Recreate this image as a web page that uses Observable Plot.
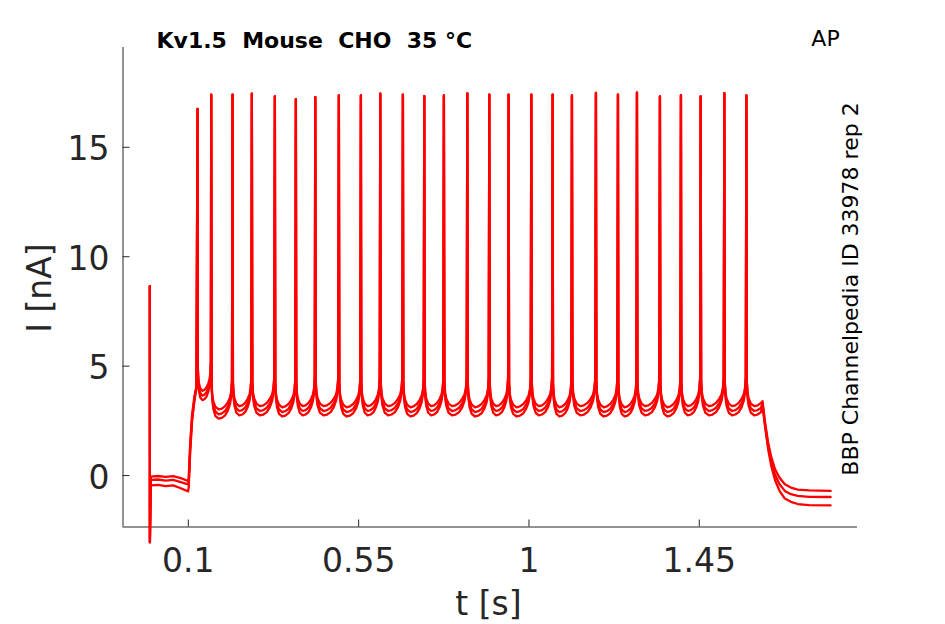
<!DOCTYPE html>
<html><head><meta charset="utf-8">
<script src="https://cdn.jsdelivr.net/npm/d3@7"></script>
<script src="https://cdn.jsdelivr.net/npm/@observablehq/plot@0.6"></script>
<style>
html,body{margin:0;padding:0;background:#fff;}
svg text{white-space:pre;}
</style></head><body><div id="chart"></div>
<script>
// ---- data ----
const xTicks = [0.1, 0.55, 1, 1.45];
const yTicks = [0, 5, 10, 15];
const xDomain = [-0.0726, 1.868];
const yDomain = [-2.35, 19.56];
const reps = ["rep a", "rep b", "rep c"];
const repOffset = [0.22, 0, -0.2];

// capacitive transient at stimulus onset
const transientT = [-0.0018, -0.0016];
const transientI = [8.65, -3.05];

// holding baseline before the AP train
const baseT = [0.001, 0.02, 0.04, 0.06, 0.08, 0.0995];
const baseI = [
  [-0.05, -0.02, -0.06, -0.03, -0.12, -0.25],
  [-0.20, -0.18, -0.23, -0.20, -0.30, -0.40],
  [-0.45, -0.43, -0.48, -0.45, -0.58, -0.72]
];

// rise into the train
const rampT = [0.101, 0.105, 0.11, 0.116, 0.1215];
const rampI = [
  [-0.10, 1.50, 2.80, 3.60, 4.10],
  [-0.30, 1.30, 2.65, 3.50, 4.05],
  [-0.55, 1.10, 2.50, 3.40, 4.00]
];

// spikes
const spikeTimes = [0.1243, 0.1605, 0.2168, 0.2678, 0.3286, 0.3841, 0.4354, 0.4977, 0.5559, 0.6071,
  0.6669, 0.7234, 0.7752, 0.8371, 0.8952, 0.9462, 1.0062, 1.0625, 1.1135, 1.1769,
  1.2351, 1.2853, 1.3460, 1.4015, 1.4536, 1.5162, 1.5744];
const spikePeaks = [16.76, 17.40, 17.41, 17.45, 17.32, 17.20, 17.29, 17.37, 17.37, 17.45,
  17.41, 17.34, 17.37, 17.46, 17.41, 17.41, 17.41, 17.41, 17.37, 17.49,
  17.41, 17.50, 17.32, 17.38, 17.32, 17.47, 17.37];
// trough level after each spike (middle trace)
const troughLevels = [3.65, 2.80, 2.95, 2.95, 2.90, 2.95, 2.95, 2.90, 2.95, 2.95,
  2.90, 2.95, 2.95, 2.90, 2.95, 2.90, 2.95, 2.90, 2.95, 2.90,
  2.90, 2.95, 2.90, 2.95, 2.95, 2.95, 2.95];
const lastVirtualSpike = 1.634;
const lastFracLimit = 0.65;

// inter-spike waveform (fraction of interval, height above trough, spread weight)
const shapeFrac   = [0.02, 0.05, 0.10, 0.20, 0.35, 0.50, 0.65, 0.78, 0.88, 0.94, 0.975];
const shapeRise   = [1.30, 0.75, 0.40, 0.12, 0.00, 0.04, 0.15, 0.35, 0.60, 0.95, 1.50];
const shapeSpread = [0.30, 0.50, 0.80, 1.00, 1.00, 1.00, 1.00, 0.90, 0.70, 0.50, 0.30];

// decay after the train
const tailT = [1.617, 1.624, 1.632, 1.64, 1.65, 1.662, 1.676, 1.692, 1.71, 1.74, 1.797];
const tailI = [
  [3.40, 2.40, 1.50, 0.85, 0.30, -0.10, -0.40, -0.55, -0.64, -0.68, -0.70],
  [3.30, 2.30, 1.35, 0.65, 0.05, -0.40, -0.70, -0.85, -0.93, -0.97, -0.98],
  [3.20, 2.20, 1.20, 0.45, -0.20, -0.70, -1.05, -1.20, -1.30, -1.35, -1.36]
];

// ---- assemble trace table ----
const rows = [];
reps.forEach((rep, r) => {
  transientT.forEach((t, k) => rows.push({rep, t, I: transientI[k]}));
  baseT.forEach((t, k) => rows.push({rep, t, I: baseI[r][k]}));
  rampT.forEach((t, k) => rows.push({rep, t, I: rampI[r][k]}));
  spikeTimes.forEach((ts, i) => {
    rows.push({rep, t: ts, I: spikePeaks[i]});
    const last = i + 1 === spikeTimes.length;
    const next = last ? lastVirtualSpike : spikeTimes[i + 1];
    shapeFrac.forEach((f, k) => {
      if (last && f > lastFracLimit) return;
      rows.push({rep, t: ts + f * (next - ts), I: troughLevels[i] + shapeRise[k] + repOffset[r] * shapeSpread[k]});
    });
  });
  tailT.forEach((t, k) => rows.push({rep, t, I: tailI[r][k]}));
});

const axisColor = "#262626";
const chart = Plot.plot({
  width: 945, height: 624,
  marginLeft: 122.5, marginRight: 88, marginTop: 47, marginBottom: 97.5,
  x: {domain: xDomain, label: null},
  y: {domain: yDomain, label: null},
  style: {fontFamily: "DejaVu Sans", background: "white", overflow: "visible", color: axisColor},
  marks: [
    Plot.ruleX([xDomain[0]], {stroke: axisColor, strokeWidth: 1}),
    Plot.ruleY([yDomain[0]], {stroke: axisColor, strokeWidth: 1}),
    Plot.axisY({ticks: yTicks, tickSize: 7, dx: 7, fill: "none", stroke: axisColor, label: null}),
    Plot.axisY({ticks: yTicks, tickSize: 0, tickPadding: 13.5, dy: 2.5, fontSize: 33, fill: axisColor, label: null, tickFormat: d => String(d)}),
    Plot.axisX({ticks: xTicks, tickSize: 7, dy: -7, fill: "none", stroke: axisColor, label: null}),
    Plot.axisX({ticks: xTicks, tickSize: 0, tickPadding: 22, fontSize: 33, fill: axisColor, label: null, tickFormat: d => String(d)}),
    Plot.line(rows, {x: "t", y: "I", z: "rep", stroke: "#ff0000", strokeWidth: 2.3, strokeLinejoin: "round"}),
    Plot.text(["Kv1.5  Mouse  CHO  35 °C"], {frameAnchor: "top-left", dx: 33.5, dy: -6.3, textAnchor: "start", lineAnchor: "middle", fontSize: 22, fontWeight: "bold", fill: "black"}),
    Plot.text(["AP"], {frameAnchor: "top-right", dx: -32, dy: -9, textAnchor: "middle", lineAnchor: "middle", fontSize: 22, fill: "black"}),
    Plot.text(["BBP Channelpedia ID 33978 rep 2"], {frameAnchor: "right", dx: -6.5, dy: 1.75, rotate: -90, textAnchor: "middle", lineAnchor: "middle", fontSize: 22, fill: "black"}),
    Plot.text(["I [nA]"], {frameAnchor: "left", dx: -83, dy: 0.75, rotate: -90, textAnchor: "middle", lineAnchor: "middle", fontSize: 33, fill: axisColor}),
    Plot.text(["t [s]"], {frameAnchor: "bottom", dx: -1.75, dy: 77, textAnchor: "middle", lineAnchor: "middle", fontSize: 33, fill: axisColor})
  ]
});
document.getElementById("chart").appendChild(chart);
</script></body></html>
